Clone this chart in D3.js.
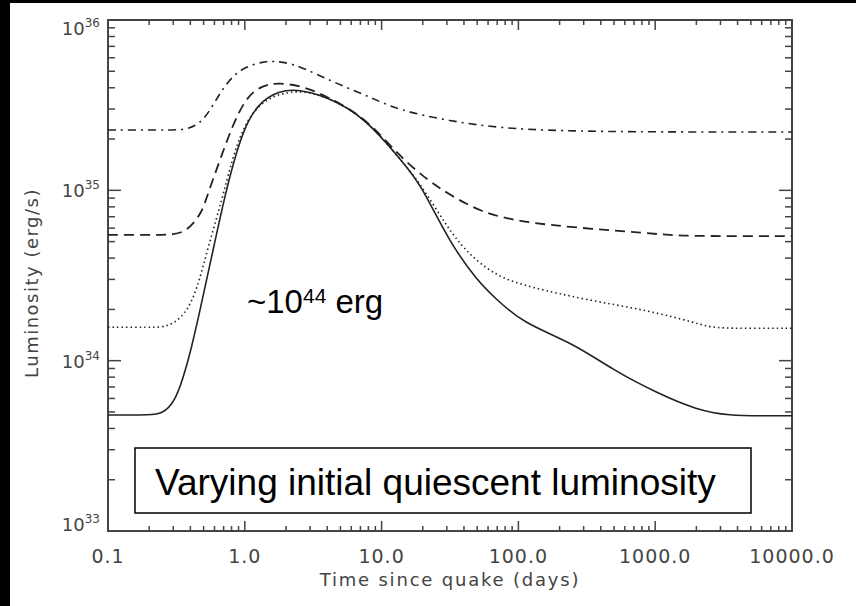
<html lang="en">
<head>
<meta charset="utf-8">
<title>Luminosity after quake</title>
<script src="https://d3js.org/d3.v7.min.js"></script>
<style>
  body { margin: 0; background: white; }
  svg { display: block; }
</style>
</head>
<body>
<script type="text/javascript">

// time since quake (days) and luminosity (erg/s) for each curve
var solidT = [0.1, 0.18, 0.24, 0.294, 0.336, 0.397, 0.471, 0.576, 0.716, 0.877, 1.05, 1.34, 1.81, 2.33, 3.86, 7.56, 14.8, 19.1, 31.6, 49.8, 67.4, 108, 251, 492, 1030, 2020, 3520, 6000, 10000];
var solidL = [4.8e33, 4.8e33, 4.8e33, 5.48e33, 6.9e33, 1.08e34, 1.98e34, 4.17e34, 9.4e34, 1.73e35, 2.59e35, 3.39e35, 3.83e35, 3.93e35, 3.6e35, 2.7e35, 1.41e35, 1.1e35, 4.9e34, 2.97e34, 2.33e34, 1.66e34, 1.27e34, 8.8e33, 6.46e33, 5.13e33, 4.75e33, 4.75e33, 4.75e33];

var dottedT = [0.1, 0.2, 0.275, 0.366, 0.448, 0.539, 0.681, 0.806, 0.955, 1.29, 2.33, 3.86, 7.56, 14.8, 19.1, 30.1, 42.1, 69.8, 122, 318, 872, 2020, 2650, 5000, 10000];
var dottedL = [1.57e34, 1.57e34, 1.57e34, 1.85e34, 2.6e34, 4.65e34, 8.8e34, 1.51e35, 2.26e35, 3.39e35, 3.93e35, 3.6e35, 2.7e35, 1.41e35, 1.1e35, 6.1e34, 4.29e34, 3.1e34, 2.7e34, 2.27e34, 1.98e34, 1.66e34, 1.55e34, 1.55e34, 1.55e34];

var dashedT = [0.1, 0.2, 0.309, 0.385, 0.486, 0.539, 0.659, 0.806, 1.0, 1.25, 1.75, 2.75, 3.86, 7.56, 13.6, 22.6, 30.1, 52.4, 103, 282, 871, 1518, 4000, 10000];
var dashedL = [5.47e34, 5.47e34, 5.47e34, 5.85e34, 7.36e34, 9.65e34, 1.51e35, 2.36e35, 3.39e35, 4.04e35, 4.33e35, 4.04e35, 3.6e35, 2.7e35, 1.57e35, 1.12e35, 9.65e34, 7.46e34, 6.52e34, 6.01e34, 5.61e34, 5.39e34, 5.39e34, 5.39e34];

var dashDotT = [0.1, 0.25, 0.385, 0.486, 0.575, 0.681, 0.806, 1.0, 1.34, 1.58, 2.21, 3.43, 5.40, 8.5, 13.2, 31.6, 73.3, 201, 1000, 10000];
var dashDotL = [2.26e35, 2.26e35, 2.26e35, 2.52e35, 3.08e35, 3.88e35, 4.63e35, 5.3e35, 5.67e35, 5.74e35, 5.59e35, 4.76e35, 4.04e35, 3.49e35, 2.96e35, 2.55e35, 2.32e35, 2.23e35, 2.2e35, 2.2e35];

// tick labels
var xTicks = [0.1, 1, 10, 100, 1000, 10000];
var xTickLabels = ["0.1", "1.0", "10.0", "100.0", "1000.0", "10000.0"];
var yTicks = [1e33, 1e34, 1e35, 1e36];
var yTickExps = ["33", "34", "35", "36"];

var w = 856, h = 606;
var padL = 108, padR = 792, padT = 20, padB = 531;

var svg = d3.select("body").append("svg")
  .attr("width", w)
  .attr("height", h);

// black frame edges of the picture
svg.append("rect").attr("x", 0).attr("y", 0).attr("width", w).attr("height", 3).attr("fill", "black");
svg.append("rect").attr("x", 0).attr("y", 0).attr("width", 10).attr("height", h).attr("fill", "black");

var xScale = d3.scaleLog().domain([0.1, 10000]).range([padL, padR]);
var yScale = d3.scaleLog().domain([1e33, 1e36]).range([padB, padT]);

// minor ticks 2..9 of each decade
function minors(lo, hi) {
  var out = [];
  for (var e = lo; e < hi; e++) {
    for (var m = 2; m <= 9; m++) out.push(m * Math.pow(10, e));
  }
  return out;
}
var xMinor = minors(-1, 4);
var yMinor = minors(33, 36);

var axisColor = "#444";
var ax = svg.append("g").attr("stroke", axisColor);

ax.append("rect")
  .attr("x", padL).attr("y", padT)
  .attr("width", padR - padL).attr("height", padB - padT)
  .attr("fill", "none").attr("stroke-width", 2);

// x ticks bottom and top
ax.selectAll(".xmaj").data(xTicks).enter().append("line")
  .attr("x1", d => xScale(d)).attr("x2", d => xScale(d))
  .attr("y1", padB).attr("y2", padB - 10).attr("stroke-width", 1.5);
ax.selectAll(".xmajT").data(xTicks).enter().append("line")
  .attr("x1", d => xScale(d)).attr("x2", d => xScale(d))
  .attr("y1", padT).attr("y2", padT + 10).attr("stroke-width", 1.5);
ax.selectAll(".xmin").data(xMinor).enter().append("line")
  .attr("x1", d => xScale(d)).attr("x2", d => xScale(d))
  .attr("y1", padB).attr("y2", padB - 5).attr("stroke-width", 1.5);
ax.selectAll(".xminT").data(xMinor).enter().append("line")
  .attr("x1", d => xScale(d)).attr("x2", d => xScale(d))
  .attr("y1", padT).attr("y2", padT + 5).attr("stroke-width", 1.5);

// y ticks left and right
ax.selectAll(".ymaj").data(yTicks).enter().append("line")
  .attr("y1", d => yScale(d)).attr("y2", d => yScale(d))
  .attr("x1", padL).attr("x2", padL + 13).attr("stroke-width", 1.5);
ax.selectAll(".ymajR").data(yTicks).enter().append("line")
  .attr("y1", d => yScale(d)).attr("y2", d => yScale(d))
  .attr("x1", padR).attr("x2", padR - 13).attr("stroke-width", 1.5);
ax.selectAll(".ymin").data(yMinor).enter().append("line")
  .attr("y1", d => yScale(d)).attr("y2", d => yScale(d))
  .attr("x1", padL).attr("x2", padL + 7).attr("stroke-width", 1.5);
ax.selectAll(".yminR").data(yMinor).enter().append("line")
  .attr("y1", d => yScale(d)).attr("y2", d => yScale(d))
  .attr("x1", padR).attr("x2", padR - 7).attr("stroke-width", 1.5);

// x tick labels
svg.selectAll(".xlab").data(xTicks).enter().append("text")
  .attr("x", d => xScale(d))
  .attr("y", 563)
  .attr("text-anchor", "middle")
  .attr("font-family", "DejaVu Sans")
  .attr("font-size", "19px")
  .attr("letter-spacing", "1px")
  .attr("fill", axisColor)
  .text((d, i) => xTickLabels[i]);

// y tick labels 10^n
var ylab = svg.selectAll(".ylab").data(yTicks).enter().append("text")
  .attr("x", 100)
  .attr("y", function(d, i) {
    var off = 7;
    if (i === yTicks.length - 1) off = 15;
    if (i === 0) off = 0;
    return yScale(d) + off;
  })
  .attr("text-anchor", "end")
  .attr("font-family", "DejaVu Sans")
  .attr("font-size", "18px")
  .attr("fill", axisColor);
ylab.append("tspan").text("10");
ylab.append("tspan").attr("font-size", "12px").attr("dy", -8).text((d, i) => yTickExps[i]);

// axis titles
svg.append("text")
  .attr("x", (padL + padR) / 2)
  .attr("y", 586)
  .attr("text-anchor", "middle")
  .attr("font-family", "DejaVu Sans")
  .attr("font-size", "18px")
  .attr("letter-spacing", "1.8px")
  .attr("fill", axisColor)
  .text("Time since quake (days)");

svg.append("text")
  .attr("transform", "translate(38," + 283 + ") rotate(-90)")
  .attr("text-anchor", "middle")
  .attr("font-family", "DejaVu Sans")
  .attr("font-size", "18px")
  .attr("letter-spacing", "1.5px")
  .attr("fill", axisColor)
  .text("Luminosity (erg/s)");

// curves
var line = d3.line()
  .x(d => xScale(d[0]))
  .y(d => yScale(d[1]))
  .curve(d3.curveBasis);

var series = [
  { t: dashDotT, l: dashDotL, dash: "8,5,2,5", width: 1.6 },
  { t: dashedT, l: dashedL, dash: "10,6", width: 1.8 },
  { t: dottedT, l: dottedL, dash: "1.5,3", width: 1.6 },
  { t: solidT, l: solidL, dash: null, width: 1.6 }
];

svg.append("g").selectAll("path").data(series).enter().append("path")
  .attr("d", s => line(s.t.map((t, i) => [t, s.l[i]])))
  .attr("fill", "none")
  .attr("stroke", "#222")
  .attr("stroke-width", s => s.width)
  .attr("stroke-dasharray", s => s.dash);

// annotations
var ann = svg.append("text")
  .attr("x", 247)
  .attr("y", 313)
  .attr("font-family", "Liberation Sans")
  .attr("font-size", "33px")
  .attr("fill", "black");
ann.append("tspan").text("~10");
ann.append("tspan").attr("font-size", "21px").attr("dy", -10).text("44");
ann.append("tspan").attr("dy", 10).text(" erg");

svg.append("rect")
  .attr("x", 135).attr("y", 448)
  .attr("width", 616).attr("height", 65)
  .attr("fill", "white")
  .attr("stroke", "black")
  .attr("stroke-width", 1.5);

svg.append("text")
  .attr("x", 155)
  .attr("y", 495)
  .attr("font-family", "Liberation Sans")
  .attr("font-size", "37px")
  .attr("fill", "black")
  .text("Varying initial quiescent luminosity");

</script>
</body>
</html>
